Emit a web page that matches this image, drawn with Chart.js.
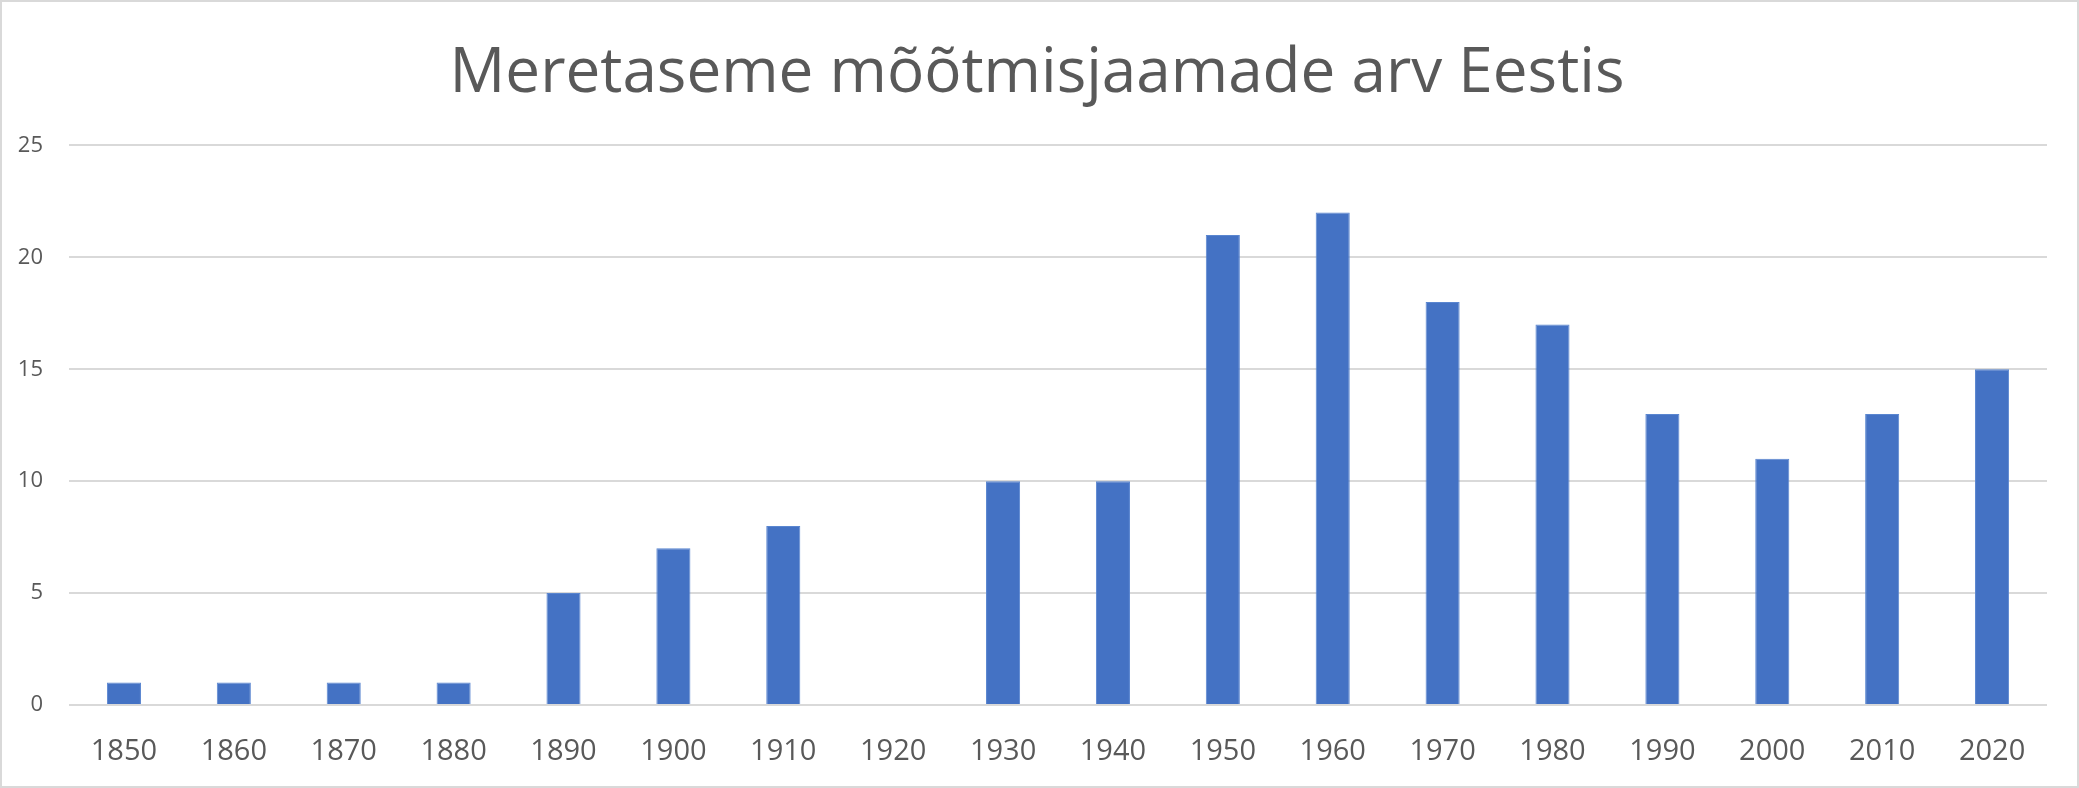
<!DOCTYPE html>
<html>
<head>
<meta charset="utf-8">
<script src="https://cdn.jsdelivr.net/npm/chart.js@4/dist/chart.umd.min.js"></script>
<style>
  html, body { margin: 0; padding: 0; background: #fff; }
  #wrap { width: 2079px; height: 788px; position: relative; }
</style>
</head>
<body>
<div id="wrap"><canvas id="chart" width="2079" height="788"></canvas></div>
<script>
// aastakümned ja jaamade arv
const years = ['1850', '1860', '1870', '1880', '1890', '1900', '1910', '1920', '1930',
               '1940', '1950', '1960', '1970', '1980', '1990', '2000', '2010', '2020'];
const stations = [1, 1, 1, 1, 5, 7, 8, 0, 10, 10, 21, 22, 18, 17, 13, 11, 13, 15];
const yTicks = [0, 5, 10, 15, 20, 25];

const chartTitle = 'Meretaseme mõõtmisjaamade arv Eestis';
const textColor = '#595959';
const gridColor = '#d9d9d9';

// hall raam ümber kogu pildi + pealkiri veidi paremale
const frame = {
    id: 'frame',
    afterLayout(chart) {
        if (chart.titleBlock) chart.titleBlock.left = 27;
    },
    afterDraw(chart) {
        const ctx = chart.ctx;
        ctx.save();
        ctx.strokeStyle = gridColor;
        ctx.lineWidth = 2;
        ctx.strokeRect(1, 1, chart.width - 2, chart.height - 2);
        ctx.restore();
    }
};

const ctx = document.getElementById('chart').getContext('2d');
new Chart(ctx, {
    type: 'bar',
    data: {
        labels: years,
        datasets: [{
            label: 'Jaamade arv',
            data: stations,
            backgroundColor: '#4472c4',
            borderColor: '#5a86d0',
            borderWidth: 1,
            barPercentage: 0.31,
            categoryPercentage: 1.0
        }]
    },
    options: {
        responsive: false,
        animation: false,
        layout: { padding: { left: 0, right: 32, top: 0, bottom: 0 } },
        plugins: {
            legend: { display: false },
            tooltip: { enabled: false },
            title: {
                display: true,
                text: chartTitle,
                color: textColor,
                font: { family: '"Open Sans", sans-serif', size: 62, weight: 'normal' },
                padding: { top: 37, bottom: 34 }
            }
        },
        scales: {
            x: {
                grid: { display: false, drawTicks: false },
                border: { display: false },
                ticks: {
                    color: textColor,
                    font: { family: '"Open Sans", sans-serif', size: 29 },
                    padding: 29,
                    maxRotation: 0
                },
                afterFit(scale) { scale.height = 83; }
            },
            y: {
                min: 0,
                max: 25,
                afterBuildTicks(scale) { scale.ticks = yTicks.map(v => ({ value: v })); },
                grid: { color: gridColor, lineWidth: 2, drawTicks: false },
                border: { display: false },
                ticks: {
                    color: textColor,
                    font: { family: '"Open Sans", sans-serif', size: 22 },
                    padding: 26
                },
                afterFit(scale) { scale.width = 69; }
            }
        }
    },
    plugins: [frame]
});
</script>
</body>
</html>
